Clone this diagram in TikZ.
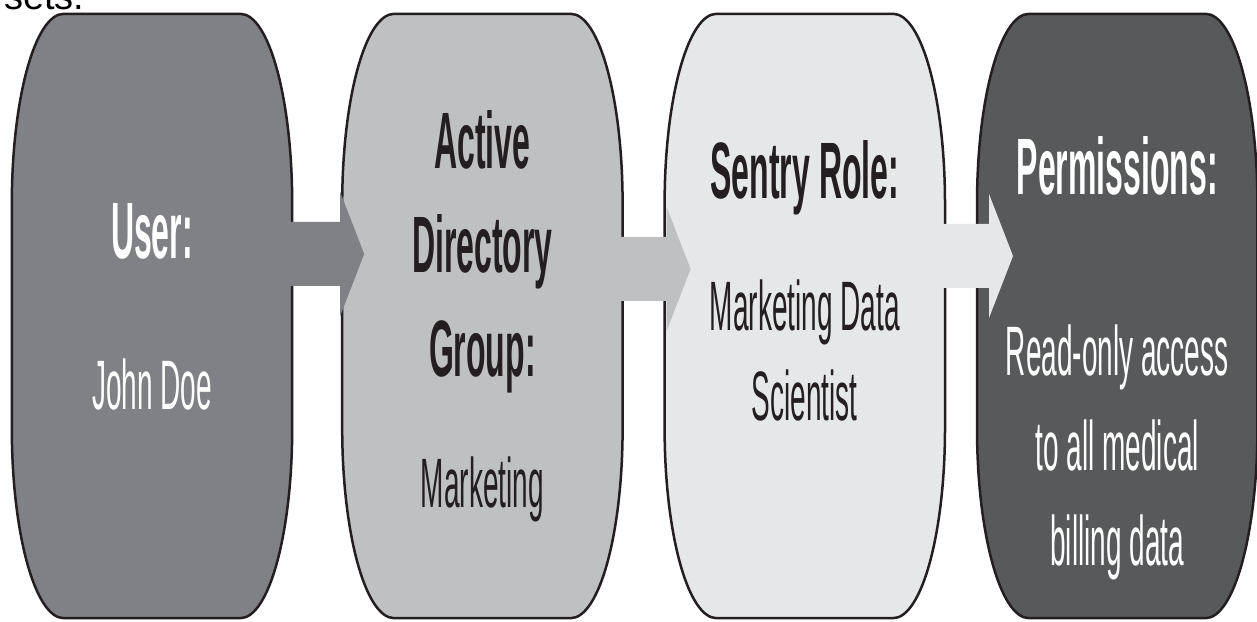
\documentclass[tikz,border=0pt]{standalone}
\usepackage{fontspec}
\setmainfont{Liberation Sans}
\newfontfamily\narrowfont[FakeStretch=0.4]{Liberation Sans}
\usetikzlibrary{positioning}
\definecolor{c_user}{RGB}{128, 129, 132}
\definecolor{c_group}{RGB}{191, 192, 194}
\definecolor{c_role}{RGB}{230, 231, 232}
\definecolor{c_perm}{RGB}{88, 89, 91}
\definecolor{c_line}{RGB}{35, 31, 32}
\tikzset {
  pill/.style = {rectangle, inner sep=0pt, minimum width=280pt, minimum height=604pt},
  title/.style = {font=\narrowfont\bfseries\fontsize{80}{104}\selectfont, align=center, anchor=base, inner sep=0pt},
  label/.style = {font=\narrowfont\fontsize{70}{95}\selectfont, align=center, anchor=base, inner sep=0pt},
  outline/.style = {draw=c_line, line width=2.5pt}
}
% box outline with elliptical corners round an (invisible) pill node
\newcommand{\drawpill}[2]{%
  \draw[outline, fill=#2] ([xshift=52pt]#1.north west) -- ([xshift=-52pt]#1.north east)
    arc[start angle=90, end angle=0, x radius=52pt, y radius=190pt]
    -- ([yshift=190pt]#1.south east)
    arc[start angle=0, end angle=-90, x radius=52pt, y radius=190pt]
    -- ([xshift=52pt]#1.south west)
    arc[start angle=270, end angle=180, x radius=52pt, y radius=190pt]
    -- ([yshift=-190pt]#1.north west)
    arc[start angle=180, end angle=90, x radius=52pt, y radius=190pt] -- cycle;}
% block arrow: from, to, colour, raise, head back
\newcommand{\flowarrow}[5]{%
  \fill[#3] ([xshift=-4pt, yshift=#4+32pt]#1.east) -- ([xshift=#5, yshift=#4+32pt]#2.west)
    -- ([xshift=#5, yshift=#4+62pt]#2.west) -- ([xshift=#5+24pt, yshift=#4]#2.west)
    -- ([xshift=#5, yshift=#4-62pt]#2.west) -- ([xshift=#5, yshift=#4-32pt]#2.west)
    -- ([xshift=-4pt, yshift=#4-32pt]#1.east) -- cycle;}
\pgfdeclarelayer{background}
\pgfdeclarelayer{foreground}
\pgfsetlayers{background,main,foreground}

\begin{document}
\begin{tikzpicture}[x=1pt, y=1pt]
    \useasboundingbox (0,0) rectangle (1257,621);

    \node[anchor=base west, font=\fontsize{38}{40}\selectfont, inner sep=0pt] (sets) at (4,611) {sets.};

    \node[pill, name=user] (user) at (152,305) {};
    \node[pill, name=group, right=50pt of user] (group) {};
    \node[pill, name=role, right=42pt of group] (role) {};
    \node[pill, name=perm, right=32pt of role] (perm) {};

    % base anchor = baseline of the last line
    \node[above=360pt of user.south, title, text=white] (usert) {User:};
    \node[above=209pt of user.south, label, text=white] (userl) {John Doe};
    \node[above=242pt of group.south, title, text=c_line] (groupt) {Active\\Directory\\Group:};
    \node[above=111pt of group.south, label, text=c_line] (groupl) {Marketing};
    \node[above=420pt of role.south, title, text=c_line] (rolet) {Sentry Role:};
    \node[above=198pt of role.south, label, text=c_line, font=\narrowfont\fontsize{70}{90}\selectfont] (rolel) {Marketing Data\\Scientist};
    \node[above=424pt of perm.south, title, text=white] (permt) {Permissions:};
    \node[above=53pt of perm.south, label, text=white] (perml) {Read-only access\\to all medical\\billing data};

    \begin{pgfonlayer}{background}
      \drawpill{user}{c_user}
      \drawpill{group}{c_group}
      \drawpill{role}{c_role}
      \drawpill{perm}{c_perm}
    \end{pgfonlayer}

    \begin{pgfonlayer}{foreground}
      \flowarrow{user}{group}{c_user}{62pt}{-2pt}
      \flowarrow{group}{role}{c_group}{47pt}{2pt}
      \flowarrow{role}{perm}{c_role}{60pt}{12pt}
    \end{pgfonlayer}

\end{tikzpicture}
\end{document}
